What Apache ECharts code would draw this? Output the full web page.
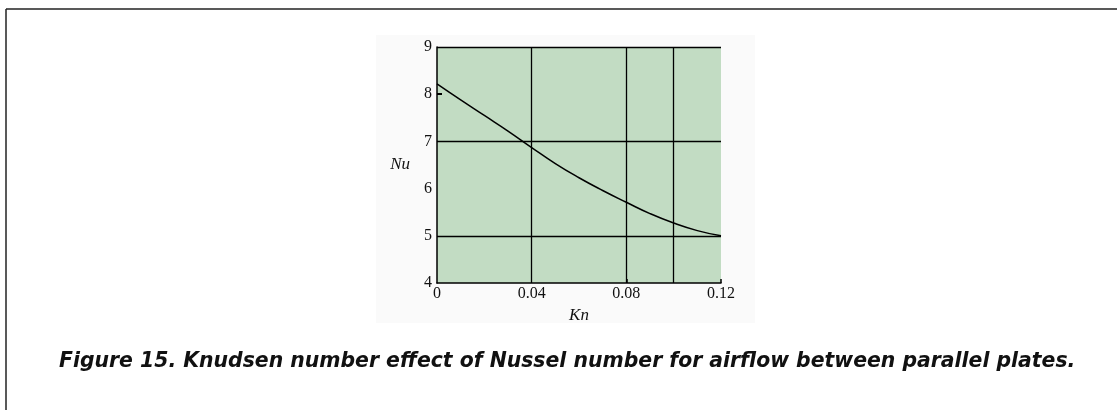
<!DOCTYPE html>
<html>
<head>
<meta charset="utf-8">
<script src="https://cdn.jsdelivr.net/npm/echarts@6/dist/echarts.min.js"></script>
<style>
  html, body { margin: 0; padding: 0; background: #ffffff; }
  #chart { width: 1117px; height: 410px; }
</style>
</head>
<body>
<div id="chart"></div>
<script>
// Knudsen number (Kn) vs Nusselt number (Nu), parallel-plate airflow
const knValues = [0, 0.01, 0.02, 0.03, 0.04, 0.05, 0.06, 0.07, 0.08, 0.09, 0.10, 0.11, 0.12];
const nuValues = [8.22, 7.88, 7.55, 7.22, 6.87, 6.53, 6.23, 5.96, 5.71, 5.47, 5.27, 5.11, 5.00];

// Reference lines drawn across the plot
const gridKn = [0.04, 0.08, 0.10];
const gridNu = [5, 7, 9];

const xTickLabels = ['0', '0.04', '0.08', '0.12'];
const yTickLabels = ['4', '5', '6', '7', '8', '9'];

const captionText = 'Figure 15. Knudsen number effect of Nussel number for airflow between parallel plates.';

const chart = echarts.init(document.getElementById('chart'), null, { renderer: 'canvas' });

const points = knValues.map((k, i) => [k, nuValues[i]]);
const refLines = gridKn.map(v => ({ xAxis: v })).concat(gridNu.map(v => ({ yAxis: v })));

const serif = '"Liberation Serif", "DejaVu Serif", serif';

chart.setOption({
  animation: false,
  backgroundColor: '#ffffff',
  title: {
    text: captionText,
    left: 54,
    top: 347,
    textStyle: {
      fontFamily: '"DejaVu Sans", sans-serif',
      fontStyle: 'italic',
      fontWeight: 'bold',
      fontSize: 20.4,
      color: '#111111'
    }
  },
  graphic: [
    { type: 'rect', z: -10, shape: { x: 376, y: 35, width: 379, height: 288 }, style: { fill: '#fafafa' }, silent: true },
    { type: 'line', shape: { x1: 6, y1: 9, x2: 1117, y2: 9 }, style: { stroke: '#222222', lineWidth: 1.5 }, silent: true },
    { type: 'line', shape: { x1: 6, y1: 9, x2: 6, y2: 410 }, style: { stroke: '#222222', lineWidth: 1.5 }, silent: true }
  ],
  grid: {
    left: 437,
    top: 47,
    right: 396,
    bottom: 127,
    show: true,
    backgroundColor: '#c2dcc3',
    borderWidth: 0
  },
  xAxis: {
    type: 'value',
    min: 0,
    max: 0.12,
    interval: 0.04,
    name: 'Kn',
    nameLocation: 'middle',
    nameGap: 20,
    nameTextStyle: { fontFamily: serif, fontStyle: 'italic', fontSize: 17, color: '#111111' },
    axisLine: { show: true, lineStyle: { color: '#000000', width: 1.5 } },
    axisTick: { show: true, inside: true, length: 4, customValues: [0.08, 0.12], lineStyle: { color: '#000000', width: 1.5 } },
    splitLine: { show: false },
    axisLabel: {
      margin: 3,
      fontFamily: serif,
      fontSize: 16,
      color: '#111111',
      formatter: (v) => {
        const idx = Math.round(v / 0.04);
        return xTickLabels[idx] !== undefined ? xTickLabels[idx] : '';
      }
    }
  },
  yAxis: {
    type: 'value',
    min: 4,
    max: 9,
    interval: 1,
    name: 'Nu',
    nameLocation: 'middle',
    nameRotate: 0,
    nameGap: 27,
    nameTextStyle: { fontFamily: serif, fontStyle: 'italic', fontSize: 17, color: '#111111' },
    axisLine: { show: true, lineStyle: { color: '#000000', width: 1.5 } },
    axisTick: { show: true, inside: true, length: 5, customValues: [8], lineStyle: { color: '#000000', width: 2 } },
    splitLine: { show: false },
    axisLabel: {
      margin: 5,
      fontFamily: serif,
      fontSize: 16,
      color: '#111111',
      formatter: (v) => {
        const idx = Math.round(v - 4);
        return yTickLabels[idx] !== undefined ? yTickLabels[idx] : '';
      }
    }
  },
  series: [
    {
      type: 'line',
      data: points,
      smooth: true,
      showSymbol: false,
      lineStyle: { color: '#000000', width: 1.5 },
      markLine: {
        silent: true,
        symbol: ['none', 'none'],
        label: { show: false },
        lineStyle: { color: '#000000', type: 'solid', width: 1.3 },
        data: refLines
      }
    }
  ]
});
</script>
</body>
</html>
